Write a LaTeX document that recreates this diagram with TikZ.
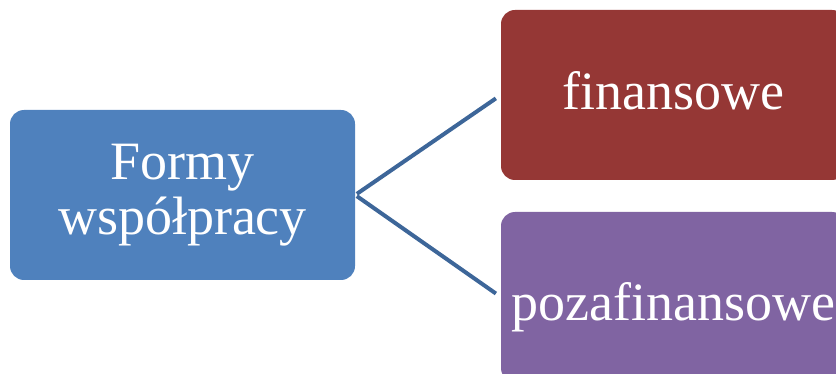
\documentclass[tikz,border=0pt]{standalone}
\usepackage{fontspec}
\setmainfont{Liberation Serif}
\usepackage{tikz}
\definecolor{formblue}{HTML}{4F81BD}
\definecolor{finred}{HTML}{953735}
\definecolor{pozapurple}{HTML}{8064A2}
\definecolor{linkblue}{HTML}{3D6699}
\tikzstyle{rect} = [rectangle, rounded corners=14pt, minimum height=170pt, minimum width=345pt, text centered, text=white, inner sep=0pt, font=\fontsize{54}{55}\selectfont]
\tikzstyle{link} = [draw=linkblue, line width=4pt]

\begin{document}
\begin{tikzpicture}[x=1pt, y=-1pt]
            \useasboundingbox (0,0) rectangle (836,374);

            \node (form) [rect, fill=formblue, align=center] at (182.5,195) {Formy\\współpracy};
            \node (fin) [rect, fill=finred, text height=30pt, text depth=0pt] at (673.5,95) {finansowe};
            \node (poza) [rect, fill=pozapurple, text height=46pt, text depth=0pt] at (673.5,297) {pozafinansowe};

            \draw [link, shorten <=2pt, shorten >=6pt] (form.east) -- (fin.west);
            \draw [link, shorten <=2pt, shorten >=6pt] (form.east) -- (poza.west);
        \end{tikzpicture}
\end{document}
